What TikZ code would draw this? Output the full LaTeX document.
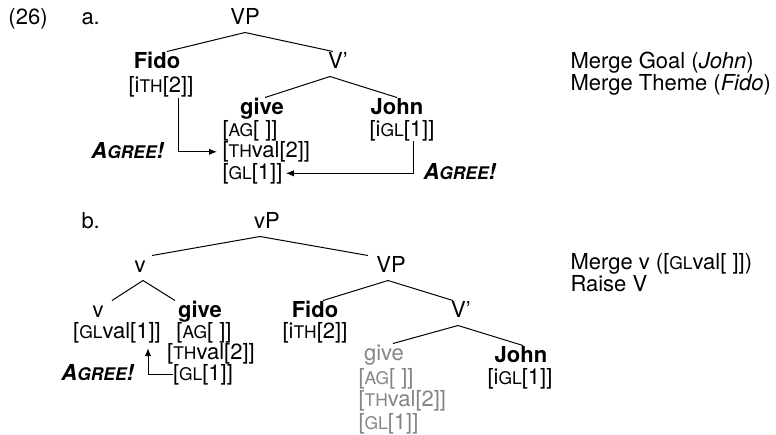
\documentclass[tikz,border=0pt]{standalone}
\usepackage{fontspec}
\setmainfont{TeX Gyre Heros}
\usetikzlibrary{arrows.meta}
\newcommand\fcap[1]{{\fontsize{8.7}{8.7}\selectfont #1}}
\newcommand\agree{\textbf{\textit{A\fcap{GREE}!}}}
\tikzset{
  cat/.style={anchor=base, inner sep=0pt, text height=8pt, text depth=4pt},
  feat/.style={anchor=base, inner sep=0pt},
  lfeat/.style={anchor=base west, inner sep=0pt},
  ghost/.style={text=black!48},
  agr/.style={-{Latex[length=4pt,width=3.2pt]}},
}
\begin{document}
\begin{tikzpicture}[x=0.5pt, y=-0.5pt, line width=0.5pt, font=\fontsize{11}{13}\selectfont]
    \useasboundingbox (0,0) rectangle (776,434);
    % (26a)
    \node[feat, anchor=base west] (exnum) at (8,24) {(26)};
    \node[feat, anchor=base west] (labA) at (81,24) {a.};
    \node[cat] (vpA) at (245,24) {VP};
    \node[cat] (fidoA) at (157,68) {\textbf{Fido}};
    \node[feat] (fthA) at (161,92.5) {[i\fcap{TH}[2]]};
    \node[cat] (vbarA) at (338,68) {V'};
    \node[cat] (giveA) at (262,114) {\textbf{give}};
    \node[lfeat] (agA) at (222,136) {[\fcap{AG}[~]]};
    \node[lfeat] (gthA) at (222,157.5) {[\fcap{TH}val[2]]};
    \node[lfeat] (glA) at (222,179) {[\fcap{GL}[1]]};
    \node[cat] (johnA) at (397,114) {\textbf{John}};
    \node[feat] (jglA) at (402,136) {[i\fcap{GL}[1]]};
    \node[feat, anchor=base east] (agrA1) at (165,158) {\agree};
    \node[feat, anchor=base west] (agrA2) at (423,179) {\agree};
    \node[feat, anchor=base west] (noteA1) at (570,68) {Merge Goal (\textit{John})};
    \node[feat, anchor=base west] (noteA2) at (570,90) {Merge Theme (\textit{Fido})};
    \draw (vpA.south) -- ([xshift=5pt]fidoA.north);
    \draw (vpA.south) -- ([xshift=-2.5pt]vbarA.north);
    \draw ([xshift=-4pt]vbarA.south) -- ([xshift=1.5pt]giveA.north);
    \draw ([xshift=-4pt]vbarA.south) -- (johnA.north);
    \draw[agr, shorten >=2.5pt] ([xshift=8.5pt]fthA.south) |- (gthA.west);
    \draw[agr, shorten >=1.5pt] ([xshift=5.5pt]jglA.south) |- (glA.east);
    % (26b)
    \node[feat, anchor=base west] (labB) at (81,228) {b.};
    \node[cat] (vpsB) at (267,228) {vP};
    \node[cat] (vB) at (140,272) {v};
    \node[cat] (vpB) at (391,272) {VP};
    \node[cat] (vlowB) at (98,317) {v};
    \node[feat] (glvalB) at (117,338) {[\fcap{GL}val[1]]};
    \node[cat] (giveB) at (200,317) {\textbf{give}};
    \node[feat] (agB) at (204,338) {[\fcap{AG}[~]]};
    \node[feat] (gthB) at (211,359) {[\fcap{TH}val[2]]};
    \node[feat] (glB) at (203,380) {[\fcap{GL}[1]]};
    \node[feat, anchor=base east] (agrB) at (135,380) {\agree};
    \node[cat] (fidoB) at (315,317) {\textbf{Fido}};
    \node[feat] (fthB) at (315,338) {[i\fcap{TH}[2]]};
    \node[cat] (vbarB) at (461,317) {V'};
    \node[cat, ghost] (giveC) at (384,360) {give};
    \node[lfeat, ghost] (agC) at (358,384) {[\fcap{AG}[~]]};
    \node[lfeat, ghost] (gthC) at (358,406.5) {[\fcap{TH}val[2]]};
    \node[lfeat, ghost] (glC) at (358,429) {[\fcap{GL}[1]]};
    \node[cat] (johnB) at (521,362) {\textbf{John}};
    \node[feat] (jglB) at (520,384) {[i\fcap{GL}[1]]};
    \node[feat, anchor=base west] (noteB1) at (570,269) {Merge v ([\fcap{GL}val[~]])};
    \node[feat, anchor=base west] (noteB2) at (570,291) {Raise V};
    \draw ([xshift=-3.5pt]vpsB.south) -- ([xshift=6pt]vB.north);
    \draw ([xshift=-3.5pt]vpsB.south) -- ([xshift=-11.5pt]vpB.north);
    \draw ([xshift=1.5pt]vB.south) -- ([xshift=7pt]vlowB.north);
    \draw ([xshift=1.5pt]vB.south) -- ([xshift=-12.5pt]giveB.north);
    \draw ([xshift=-1.5pt]vpB.south) -- ([xshift=4pt]fidoB.north);
    \draw ([xshift=-1.5pt]vpB.south) -- ([xshift=-4pt]vbarB.north);
    \draw ([xshift=-1.5pt]vbarB.south) -- ([xshift=4.5pt]giveC.north);
    \draw ([xshift=-1.5pt]vbarB.south) -- ([xshift=1pt]johnB.north);
    \draw[agr, shorten >=2.5pt] (glB.west) -| ([xshift=15.5pt]glvalB.south);
\end{tikzpicture}
\end{document}
